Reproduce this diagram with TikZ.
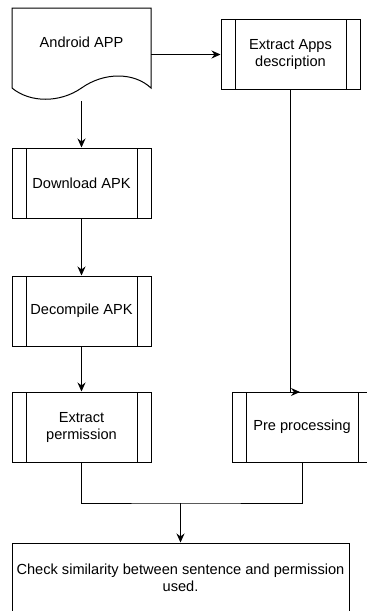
\documentclass[tikz,border=0pt]{standalone}
\usepackage{fontspec}
\setmainfont{Liberation Sans}
\usetikzlibrary{arrows.meta}

\tikzset{
  procbox/.style={draw, line width=1pt, minimum width=139pt, minimum height=70pt,
    align=center, inner sep=0pt,
    path picture={
      \draw[line width=1pt] ([xshift=14pt]path picture bounding box.north west)
        -- ([xshift=14pt]path picture bounding box.south west);
      \draw[line width=1pt] ([xshift=-14pt]path picture bounding box.north east)
        -- ([xshift=-14pt]path picture bounding box.south east);
    }},
  plainbox/.style={draw, line width=1pt, align=center, inner sep=0pt},
  arr/.style={-{Stealth[length=9pt,width=8pt]}, line width=1pt},
  wire/.style={line width=1pt}
}

\begin{document}
\begin{tikzpicture}[x=1pt,y=-1pt,font=\fontsize{14.6}{17}\selectfont]
      \useasboundingbox (0,0) rectangle (367,611);

      % Document shape (frame only, outline drawn below)
      \node[minimum width=139pt, minimum height=93pt, inner sep=0pt] (app) at (81.5,54.5) {};
      \draw[wire] (12,8) -- (151,8) -- (151,88)
        .. controls (134,72) and (104,72) .. (81.5,88)
        .. controls (60,103) and (30,103) .. (12,88) -- cycle;
      \node (apptxt) at ([yshift=12.5pt]app.center) {Android APP};

      % Process boxes
      \node[procbox] (desc) at (290.5,54.5) {Extract Apps\\description};
      \node[procbox] (dl)   at (81.5,183) {Download APK};
      \node[procbox] (dec)  at (81.5,311) {Decompile APK};
      \node[procbox] (perm) at (81.5,427) {Extract\\permission};
      \node[procbox, minimum width=140pt] (pre) at (302,427) {Pre processing};

      % Final check
      \node[plainbox, minimum width=337pt, minimum height=70pt] (chk) at (180.5,578)
        {Check similarity between sentence and permission\\used.};

      % Connectors
      \draw[arr] (app.east) -- (desc.west);
      \draw[arr] (app.south) -- (dl.north);
      \draw[arr] (dl.south) -- (dec.north);
      \draw[arr] (dec.south) -- (perm.north);

      \coordinate (pretip) at (300,392);
      \draw[arr] (desc.south) |- (pretip);

      \coordinate (join) at (180.5,503);
      \draw[wire] (perm.south) |- (join) -| (pre.south);
      \draw[arr] (join) -- (chk.north);
    \end{tikzpicture}
\end{document}
